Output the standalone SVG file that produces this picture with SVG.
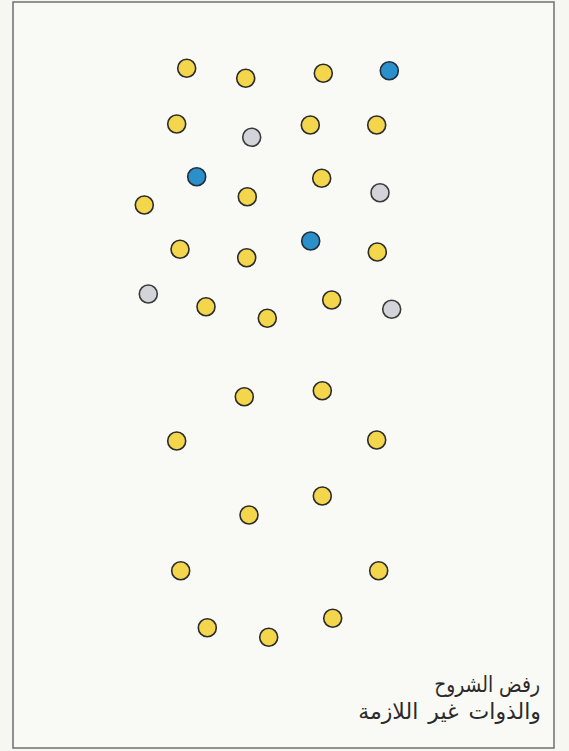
<svg xmlns="http://www.w3.org/2000/svg" width="569" height="751" viewBox="0 0 569 751">
<style>
.y{fill:#f3d64c;stroke:#2b2b2b;stroke-width:1.6}
.b{fill:#2b8fc9;stroke:#1f2f3f;stroke-width:1.6}
.g{fill:#d3d3da;stroke:#3a3a3a;stroke-width:1.6}
.t{font-family:"DejaVu Sans",sans-serif;font-size:22px;fill:#2a2a2a}
</style>
<rect x="0" y="0" width="569" height="751" fill="#f7f7f2"/>
<rect id="frame" x="13" y="2" width="541" height="746" fill="#f9f9f5" stroke="#777" stroke-width="1.6"/>
<g id="connectors"></g>
<g id="dots">
<circle id="n1" class="y" cx="186.7" cy="68.3" r="9"/>
<circle id="n2" class="y" cx="245.7" cy="78.3" r="9"/>
<circle id="n3" class="y" cx="323.3" cy="73.3" r="9"/>
<circle id="n4" class="b" cx="389.3" cy="70.7" r="9"/>
<circle id="n5" class="y" cx="176.7" cy="124" r="9"/>
<circle id="n6" class="g" cx="251.7" cy="137.3" r="9"/>
<circle id="n7" class="y" cx="310.3" cy="125" r="9"/>
<circle id="n8" class="y" cx="376.7" cy="125" r="9"/>
<circle id="n9" class="b" cx="196.7" cy="176.7" r="9"/>
<circle id="n10" class="y" cx="247.3" cy="196.7" r="9"/>
<circle id="n11" class="y" cx="321.7" cy="178.3" r="9"/>
<circle id="n12" class="g" cx="380" cy="192.7" r="9"/>
<circle id="n13" class="y" cx="144.3" cy="205" r="9"/>
<circle id="n14" class="y" cx="180" cy="249.3" r="9"/>
<circle id="n15" class="y" cx="246.7" cy="257.7" r="9"/>
<circle id="n16" class="b" cx="310.7" cy="241" r="9"/>
<circle id="n17" class="y" cx="377.3" cy="252" r="9"/>
<circle id="n18" class="g" cx="148.3" cy="294" r="9"/>
<circle id="n19" class="y" cx="206" cy="306.7" r="9"/>
<circle id="n20" class="y" cx="267.3" cy="318.3" r="9"/>
<circle id="n21" class="y" cx="331.7" cy="300" r="9"/>
<circle id="n22" class="g" cx="391.7" cy="309.3" r="9"/>
<circle id="n23" class="y" cx="244.3" cy="396.7" r="9"/>
<circle id="n24" class="y" cx="322.3" cy="390.7" r="9"/>
<circle id="n25" class="y" cx="176.7" cy="441" r="9"/>
<circle id="n26" class="y" cx="376.7" cy="440" r="9"/>
<circle id="n27" class="y" cx="322.3" cy="496" r="9"/>
<circle id="n28" class="y" cx="249" cy="515" r="9"/>
<circle id="n29" class="y" cx="180.7" cy="570.7" r="9"/>
<circle id="n30" class="y" cx="378.7" cy="570.7" r="9"/>
<circle id="n31" class="y" cx="207.3" cy="627.7" r="9"/>
<circle id="n32" class="y" cx="268.7" cy="637.3" r="9"/>
<circle id="n33" class="y" cx="332.7" cy="618.3" r="9"/>
</g>
<g id="caption">
<text class="t" x="540" y="692" text-anchor="end" transform="translate(540 0) scale(0.85 1) translate(-540 0)">رفض الشروح</text>
<text class="t" x="541" y="719" text-anchor="end" word-spacing="3">والذوات غير اللازمة</text>
</g>
</svg>
